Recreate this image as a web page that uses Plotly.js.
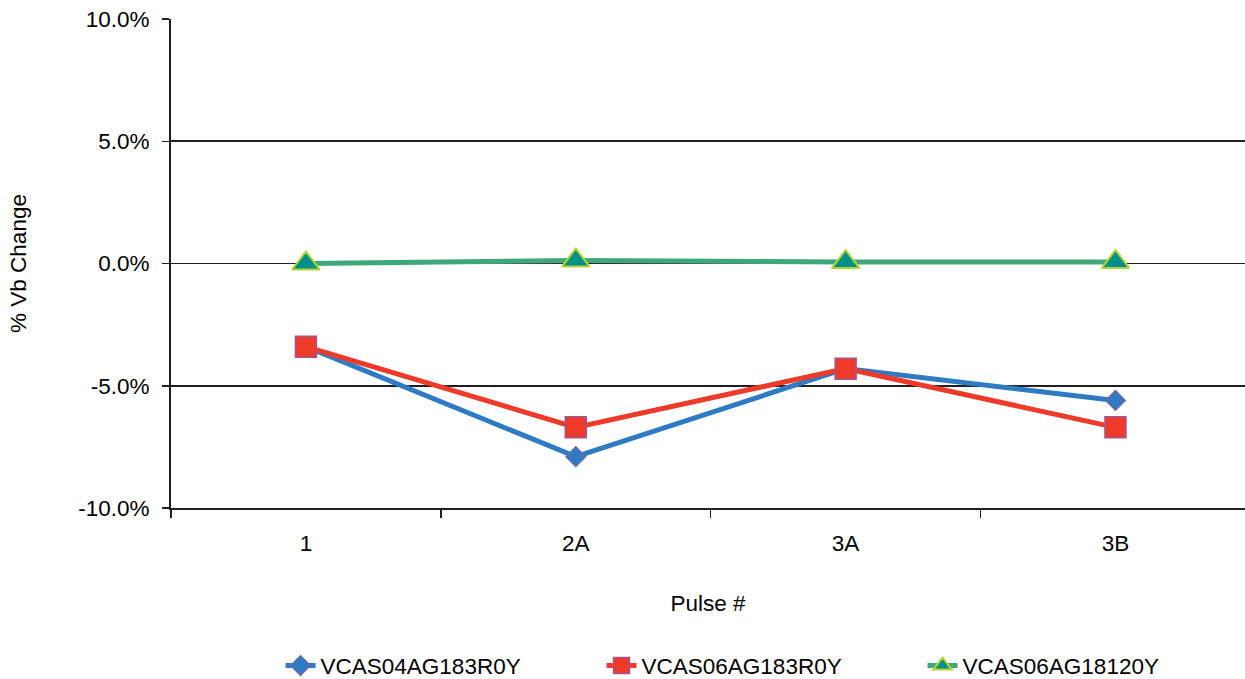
<!DOCTYPE html>
<html>
<head>
<meta charset="utf-8">
<script src="https://cdn.plot.ly/plotly-3.0.1.min.js"></script>
<style>html,body{margin:0;padding:0;background:#fff;overflow:hidden}#chart{width:1245px;height:679px}</style>
</head>
<body>
<div id="chart"></div>
<script>
const categories = ['1', '2A', '3A', '3B'];
const seriesNames = ['VCAS04AG183R0Y', 'VCAS06AG183R0Y', 'VCAS06AG18120Y'];
const vcas04 = [-3.4, -7.9, -4.3, -5.6];
const vcas06 = [-3.4, -6.7, -4.3, -6.7];
const vcas0612 = [0.0, 0.12, 0.06, 0.06];
const yTicks = [-10, -5, 0, 5, 10];
const yTickText = ['-10.0%', '-5.0%', '0.0%', '5.0%', '10.0%'];

const font = 'Liberation Sans, Arial, sans-serif';
const fs = 22.5;
const traces = [
  {x: categories, y: vcas04, name: seriesNames[0], type: 'scatter', mode: 'lines+markers',
   line: {color: '#2e7bc4', width: 5},
   marker: {symbol: 'diamond', size: 15, color: '#2e7bc4', line: {color: '#6b6aa6', width: 1.5}}},
  {x: categories, y: vcas06, name: seriesNames[1], type: 'scatter', mode: 'lines+markers',
   line: {color: '#ee3a29', width: 5},
   marker: {symbol: 'square', size: 21, color: '#ee3a29', line: {color: '#a35690', width: 1.5}}},
  {x: categories, y: vcas0612, name: seriesNames[2], type: 'scatter', mode: 'lines+markers',
   line: {color: '#3ea87a', width: 5},
   marker: {symbol: 'triangle-up', size: 24, color: '#00908a', line: {color: '#b4d334', width: 2}}}
];

const layout = {
  width: 1245, height: 679,
  margin: {l: 171, r: 0, t: 19, b: 171, autoexpand: false},
  paper_bgcolor: '#fff', plot_bgcolor: '#fff',
  font: {family: font, size: fs, color: '#000'},
  showlegend: true,
  legend: {orientation: 'h', x: 0.102, xanchor: 'left', y: -0.323, yanchor: 'middle',
           entrywidth: 276, entrywidthmode: 'pixels', font: {family: font, size: fs, color: '#000'}},
  xaxis: {
    type: 'category', range: [-0.5, 3.48], tickson: 'boundaries',
    ticks: 'outside', ticklen: 8, tickwidth: 1.5, tickcolor: '#231f20',
    showline: true, linecolor: '#231f20', linewidth: 2, showgrid: false, zeroline: false,
    ticklabelstandoff: 14,
    tickfont: {family: font, size: fs, color: '#000'},
    title: {text: 'Pulse #', font: {family: font, size: fs, color: '#000'}, standoff: 40}
  },
  yaxis: {
    range: [-10, 10], tickvals: yTicks, ticktext: yTickText,
    ticks: 'outside', ticklen: 7, tickwidth: 1.5, tickcolor: '#231f20',
    showline: true, linecolor: '#231f20', linewidth: 2,
    showgrid: true, gridcolor: '#231f20', gridwidth: 1.8, zeroline: false,
    ticklabelstandoff: 8,
    tickfont: {family: font, size: fs, color: '#000'},
    title: {text: '% Vb Change', font: {family: font, size: fs, color: '#000'}, standoff: 45}
  }
};
Plotly.newPlot('chart', traces, layout, {displayModeBar: false, staticPlot: true});
</script>
</body>
</html>
